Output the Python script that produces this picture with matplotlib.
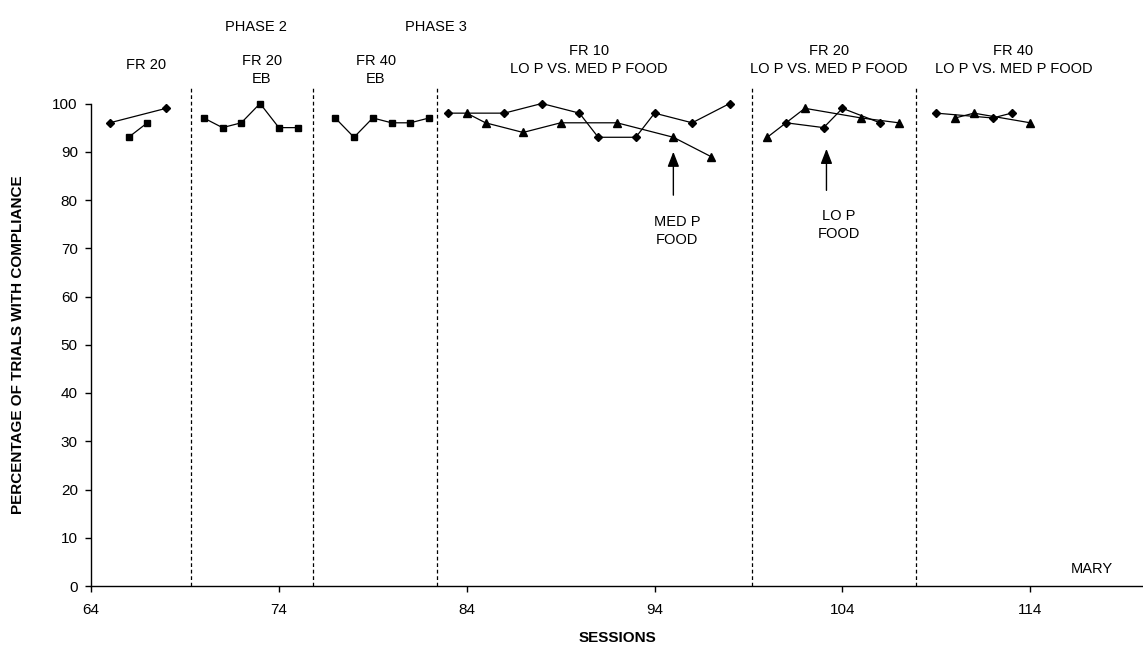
import matplotlib.pyplot as plt

plt.rcParams['font.family'] = ['Liberation Sans', 'DejaVu Sans']

# FR 20 baseline
fr20_lo_sess = [65, 68]
fr20_lo_pct = [96, 99]
fr20_sq_sess = [66, 67]
fr20_sq_pct = [93, 96]

# FR 20 EB (phase 2)
eb20_sess = [70, 71, 72, 73, 74, 75]
eb20_pct = [97, 95, 96, 100, 95, 95]

# FR 40 EB (phase 3)
eb40_sess = [77, 78, 79, 80, 81, 82]
eb40_pct = [97, 93, 97, 96, 96, 97]

# FR 10, LO P vs. MED P food
fr10_lo_sess = [83, 86, 88, 90, 91, 93, 94, 96, 98]
fr10_lo_pct = [98, 98, 100, 98, 93, 93, 98, 96, 100]
fr10_med_sess = [84, 85, 87, 89, 92, 95, 97]
fr10_med_pct = [98, 96, 94, 96, 96, 93, 89]

# FR 20, LO P vs. MED P food
fr20b_lo_sess = [101, 103, 104, 106]
fr20b_lo_pct = [96, 95, 99, 96]
fr20b_med_sess = [100, 102, 105, 107]
fr20b_med_pct = [93, 99, 97, 96]

# FR 40, LO P vs. MED P food
fr40_lo_sess = [109, 112, 113]
fr40_lo_pct = [98, 97, 98]
fr40_med_sess = [110, 111, 114]
fr40_med_pct = [97, 98, 96]

phase_lines = [69.3, 75.8, 82.4, 99.2, 107.9]

# condition labels: (x, y, text)
cond_labels = [
    (66.95, 107.9, "FR 20"),
    (73.1, 107.0, "FR 20\nEB"),
    (79.15, 107.0, "FR 40\nEB"),
    (90.5, 109.0, "FR 10\nLO P VS. MED P FOOD"),
    (103.3, 109.0, "FR 20\nLO P VS. MED P FOOD"),
    (113.1, 109.0, "FR 40\nLO P VS. MED P FOOD"),
]
phase_labels = [(72.8, 115.9, "PHASE 2"), (82.35, 115.9, "PHASE 3")]


fig = plt.figure(figsize=(11.43, 6.56), dpi=100)
ax = fig.add_axes([91 / 1143, 1 - 586 / 656, 1052 / 1143, (586 - 103.5) / 656])

def series(x, y, marker, ms):
    ax.plot(x, y, color='black', lw=0.9, marker=marker, ms=ms,
            mfc='black', mec='black', clip_on=False)

series(fr20_lo_sess, fr20_lo_pct, 'D', 4.5)
series(fr20_sq_sess, fr20_sq_pct, 's', 5)
series(eb20_sess, eb20_pct, 's', 5)
series(eb40_sess, eb40_pct, 's', 5)
series(fr10_lo_sess, fr10_lo_pct, 'D', 4.5)
series(fr10_med_sess, fr10_med_pct, '^', 6)
series(fr20b_lo_sess, fr20b_lo_pct, 'D', 4.5)
series(fr20b_med_sess, fr20b_med_pct, '^', 6)
series(fr40_lo_sess, fr40_lo_pct, 'D', 4.5)
series(fr40_med_sess, fr40_med_pct, '^', 6)

for xv in phase_lines:
    ax.plot([xv, xv], [0, 103.7], color='black', lw=0.9,
            dashes=(3, 2.2), clip_on=False)

for x, y, t in cond_labels:
    ax.text(x, y, t, ha='center', va='center', fontsize=10.5,
            linespacing=1.35)
for x, y, t in phase_labels:
    ax.text(x, y, t, ha='center', va='center', fontsize=10.5)

arrow = dict(arrowstyle='-|>,head_length=0.9,head_width=0.35',
             color='black', lw=1, mutation_scale=10, shrinkA=0, shrinkB=0)
ax.annotate('', xy=(95, 90), xytext=(95, 81), arrowprops=arrow)
ax.annotate('', xy=(103.15, 90.6), xytext=(103.15, 82), arrowprops=arrow)
ax.text(95.2, 73.6, "MED P\nFOOD", ha='center', va='center',
        fontsize=10.5, linespacing=1.35)
ax.text(103.8, 74.8, "LO P\nFOOD", ha='center', va='center',
        fontsize=10.5, linespacing=1.35)
ax.text(117.3, 3.5, "MARY", ha='center', va='center', fontsize=10.5)

ax.set_xlim(64, 120)
ax.set_ylim(0, 100)
ax.set_xticks(range(64, 121, 10))
ax.set_yticks(range(0, 101, 10))
for side in ['top', 'right']:
    ax.spines[side].set_visible(False)
for side in ['left', 'bottom']:
    ax.spines[side].set_linewidth(1.0)
ax.tick_params(axis='both', direction='out', length=4.5, width=1,
               labelsize=11)
ax.tick_params(axis='y', pad=5)
ax.tick_params(axis='x', pad=8)

ax.set_xlabel("SESSIONS", fontsize=11, fontweight='bold', labelpad=10)
fig.text(18 / 1143, 1 - 345 / 656, "PERCENTAGE OF TRIALS WITH COMPLIANCE",
         rotation=90, ha='center', va='center', fontsize=11,
         fontweight='bold')

fig.savefig("out.png", dpi=100)
